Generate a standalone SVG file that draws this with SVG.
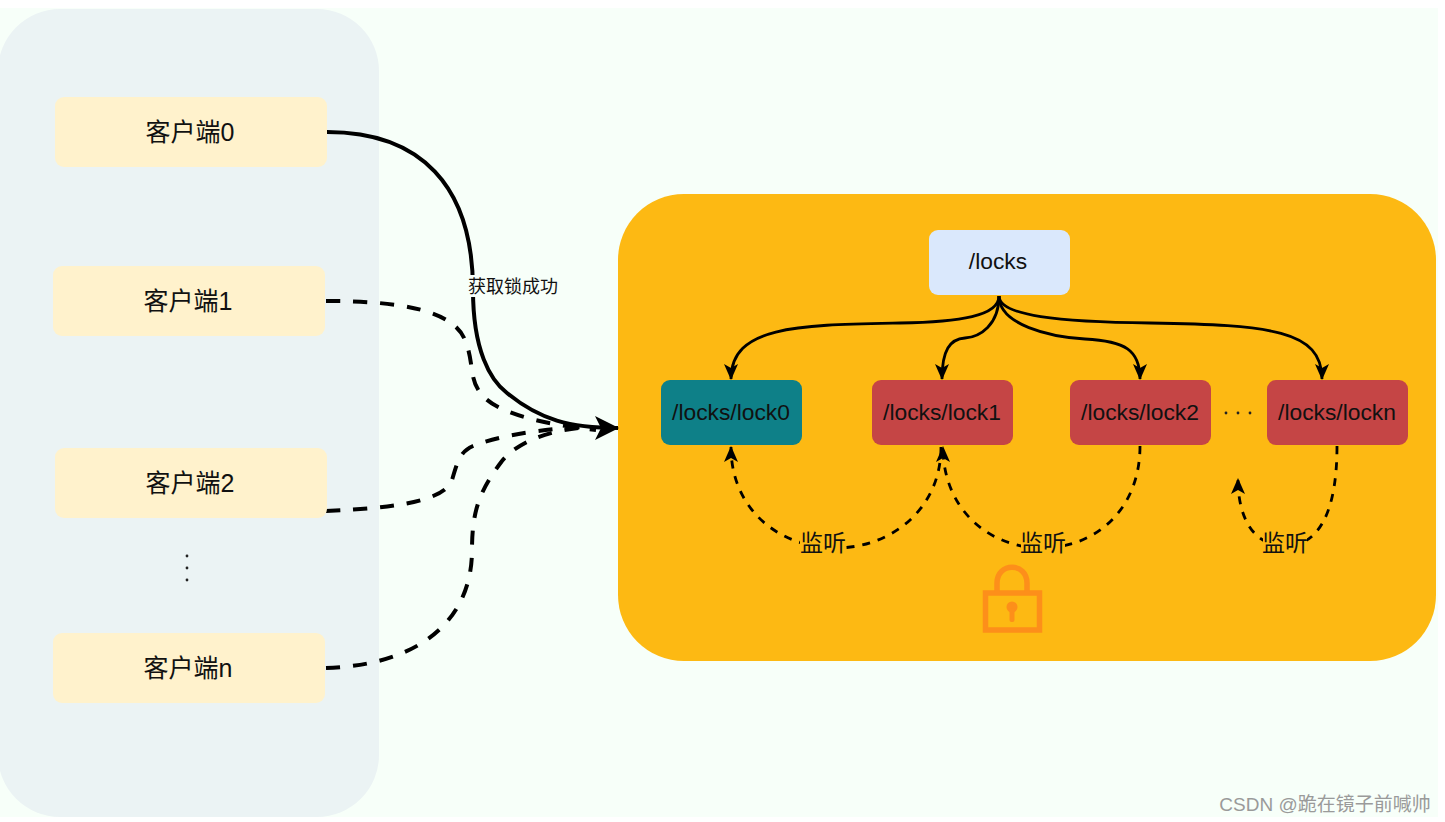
<svg xmlns="http://www.w3.org/2000/svg" width="1445" height="822" viewBox="0 0 1445 822">
  <style>
    text { font-family: "Liberation Sans", "Noto Sans CJK SC", sans-serif; fill: #111; text-anchor: middle; }
    .client rect { fill: #fff2cc; }
    .client text { font-size: 25px; }
    .node text { font-size: 22.8px; }
    .node rect { stroke: none; }
    .red rect { fill: #c54545; }
    .link { fill: none; stroke: #000; }
    .solid { stroke-width: 4px; }
    .dash { stroke-width: 4px; stroke-dasharray: 14 13; }
    .thin { stroke-width: 2.8px; }
    .watch { stroke-width: 2.8px; stroke-dasharray: 8 8; }
    .note { font-size: 23px; }
  </style>
  <defs>
    <marker id="bigHead" viewBox="0 0 26 26" refX="25" refY="13" markerWidth="26" markerHeight="26" markerUnits="userSpaceOnUse" orient="auto">
      <path d="M2 1 L26 13 L2 25 L8 13 Z" fill="#000"/>
    </marker>
    <marker id="smallHead" viewBox="0 0 18 18" refX="16" refY="9" markerWidth="18" markerHeight="18" markerUnits="userSpaceOnUse" orient="auto">
      <path d="M1 2 L17 9 L1 16 L5 9 Z" fill="#000"/>
    </marker>
  </defs>

  <rect width="1445" height="822" fill="#ffffff"/>
  <rect x="0" y="8" width="1438" height="809" fill="#f7fff9"/>
  <rect id="client-panel" x="-2" y="9" width="381" height="808" rx="62" fill="#ebf3f4"/>
  <rect id="server-panel" x="618" y="194" width="818" height="467" rx="66" fill="#fdb913"/>

  <g id="connectors">
    <path class="link dash" d="M326 301 C400 301 453 310 465 340 C475 365 468 380 483 396 C500 415 550 425 596 430"/>
    <path class="link dash" d="M326 511 C400 508 445 500 452 480 C458 460 460 452 473 446 C500 435 550 428 585 427"/>
    <path class="link dash" d="M326 668 C420 665 472 620 472 550 C472 510 480 490 502 461 C520 440 550 430 590 427"/>
    <path class="link solid" d="M327 132 C420 132 473 185 473 290 C473 350 490 380 507 393 C540 420 570 428 618 428" marker-end="url(#bigHead)"/>

    <path class="link thin" d="M999 296 C999 316 960 322 900 323 C800 325 731 325 731 379" marker-end="url(#smallHead)"/>
    <path class="link thin" d="M999 296 C999 325 980 337 965 338 C950 339 942 350 942 379" marker-end="url(#smallHead)"/>
    <path class="link thin" d="M999 296 C999 325 1050 337 1085 339 C1125 341 1140 350 1140 379" marker-end="url(#smallHead)"/>
    <path class="link thin" d="M999 296 C999 316 1060 322 1150 323 C1270 325 1322 330 1322 379" marker-end="url(#smallHead)"/>

    <path class="link watch" d="M941 447 C941 510 890 548 836 548 C780 548 731 510 731 447" marker-end="url(#smallHead)"/>
    <path class="link watch" d="M1140 446 C1140 510 1095 548 1042 548 C990 548 943 510 943 447" marker-end="url(#smallHead)"/>
    <path class="link watch" d="M1337 446 C1337 510 1320 546 1285 546 C1255 546 1238 520 1238 479" marker-end="url(#smallHead)"/>
  </g>

  <g id="client0" class="client"><rect x="55" y="97" width="272" height="70" rx="9"/><text x="190" y="141">客户端0</text></g>
  <g id="client1" class="client"><rect x="53" y="266" width="272" height="70" rx="9"/><text x="188" y="310">客户端1</text></g>
  <g id="client2" class="client"><rect x="55" y="448" width="272" height="70" rx="9"/><text x="190" y="492">客户端2</text></g>
  <g id="clientn" class="client"><rect x="53" y="633" width="272" height="70" rx="9"/><text x="188" y="677">客户端n</text></g>
  <g id="client-gap" fill="#222"><circle cx="187" cy="556" r="1.4"/><circle cx="187" cy="568" r="1.4"/><circle cx="187" cy="580" r="1.4"/></g>

  <g id="locks" class="node"><rect x="929" y="230" width="141" height="65" rx="9" fill="#dae8fc"/><text x="998" y="269">/locks</text></g>
  <g id="lock0" class="node"><rect x="661" y="380" width="141" height="65" rx="9" fill="#0e8088"/><text x="731" y="420">/locks/lock0</text></g>
  <g id="lock1" class="node red"><rect x="872" y="380" width="141" height="65" rx="9"/><text x="942" y="420">/locks/lock1</text></g>
  <g id="lock2" class="node red"><rect x="1070" y="380" width="141" height="65" rx="9"/><text x="1140" y="420">/locks/lock2</text></g>
  <g id="lockn" class="node red"><rect x="1267" y="380" width="141" height="65" rx="9"/><text x="1337" y="420">/locks/lockn</text></g>
  <g id="lock-gap" fill="#222"><circle cx="1226" cy="413" r="1.4"/><circle cx="1238" cy="413" r="1.4"/><circle cx="1250" cy="413" r="1.4"/></g>

  <g id="labels">
    <rect x="467" y="275" width="92" height="22" fill="#f7fff9"/>
    <text x="513" y="293" style="font-size:18px">获取锁成功</text>
    <rect x="800" y="532" width="46" height="24" fill="#fdb913"/>
    <text class="note" x="823" y="551">监听</text>
    <rect x="1021" y="532" width="44" height="24" fill="#fdb913"/>
    <text class="note" x="1043" y="551">监听</text>
    <rect x="1263" y="532" width="44" height="24" fill="#fdb913"/>
    <text class="note" x="1285" y="551">监听</text>
  </g>

  <g id="padlock">
    <rect x="985.500" y="593" width="54" height="37" fill="none" stroke="#fd8f1a" stroke-width="5.500"/>
    <path d="M997 592 V583 C997 562 1027 562 1027 583 V592" fill="none" stroke="#fd8f1a" stroke-width="5.500"/>
    <circle cx="1012" cy="607" r="5.500" fill="#fd8f1a"/>
    <rect x="1009.500" y="608" width="5" height="14" rx="2" fill="#fd8f1a"/>
  </g>

  <text id="watermark" x="1325" y="811" style="font-size:19px;fill:#9a9a9a">CSDN @跪在镜子前喊帅</text>
</svg>
